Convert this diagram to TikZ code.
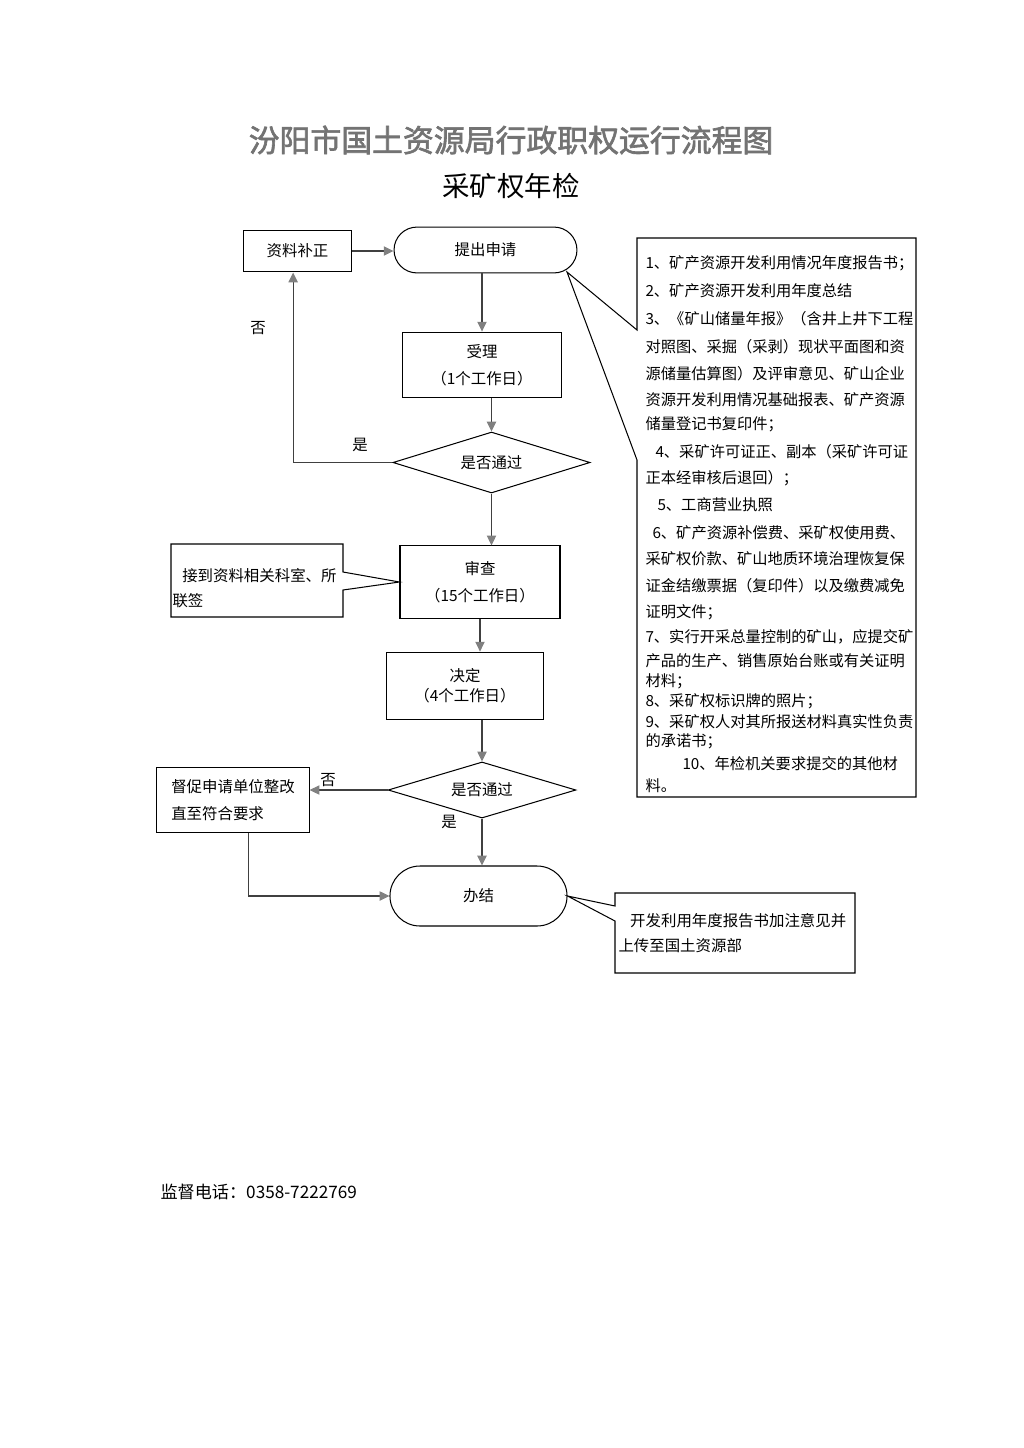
\documentclass[tikz,border=0pt]{standalone}
\usepackage{fontspec}
\setmainfont{Noto Sans CJK SC}
\newfontfamily\titlefont[FakeBold=2]{Noto Sans CJK SC}
\usetikzlibrary{arrows.meta,shapes.geometric,shapes.misc}

\tikzset{
  box/.style={draw, rectangle, inner sep=0pt, align=center, font=\fontsize{9}{15.7}\selectfont},
  term/.style={draw, rounded rectangle, inner sep=0pt, font=\fontsize{9}{11}\selectfont},
  pd/.style={draw, diamond, inner sep=0pt, shape aspect=3.2, font=\fontsize{9}{11}\selectfont},
  arr/.style={draw=black!75, -{Triangle[length=2mm,width=1.9mm,color=gray]}},
  lab/.style={inner sep=0pt, font=\fontsize{9}{15}\selectfont},
  note/.style={anchor=west, inner sep=0pt, font=\fontsize{8.9}{11}\selectfont},
}

\begin{document}
\begin{tikzpicture}[x=0.205mm, y=-0.205mm, line width=0.6pt]
\useasboundingbox (0,0) rectangle (1024,1448);

% title
\node[text=black!55, font=\titlefont\fontsize{18}{20}\selectfont] (title) at (511,140) {汾阳市国土资源局行政职权运行流程图};
\node[font=\fontsize{16}{18}\selectfont] (sub) at (511,186) {采矿权年检};

% flow
\node[box, minimum width=22.3mm, minimum height=8.6mm] (bz) at (297.5,251) {资料补正};
\node[term, minimum width=37.5mm, minimum height=9.4mm] (sq) at (485.5,250) {提出申请};
\node[box, minimum width=32.4mm, minimum height=13.5mm] (sl) at (482,365) {受理\\（1个工作日）};
\node[pd, minimum width=40.4mm, minimum height=12.5mm] (pd1) at (491.5,462.5) {是否通过};
\node[box, minimum width=32.8mm, minimum height=14.8mm] (sc) at (480,582) {审查\\（15个工作日）};
\node[box, minimum width=32mm, minimum height=13.9mm, font=\fontsize{9}{11.6}\selectfont] (jd) at (465,686) {决定\\（4个工作日）};
\node[pd, minimum width=38.5mm, minimum height=11.5mm, shape aspect=3.36] (pd2) at (482,790) {是否通过};
\node[box, align=left, minimum width=31.2mm, minimum height=13.5mm] (dc) at (233,800) {督促申请单位整改\\直至符合要求};
\node[term, minimum width=36.3mm, minimum height=12.3mm] (bj) at (478.5,896) {办结};

% yes / no
\node[lab] (y1) at (360,445) {是};
\node[lab] (n1) at (258,328) {否};
\node[lab] (n2) at (328,780) {否};
\node[lab] (y2) at (449,822) {是};

% connectors
\draw[arr] (bz.east) -- (bz.east -| sq.west);
\draw[arr] (sl.north |- sq.south) -- (sl.north);
\draw[arr] (pd1.north |- sl.south) -- (pd1.north);
\draw[arr] (pd1.west) -| ([xshift=-0.9mm]bz.south);
\draw[arr] (pd1.south) -- (pd1.south |- sc.north);
\draw[arr] (sc.south) -- (sc.south |- jd.north);
\draw[arr] (pd2.north |- jd.south) -- (pd2.north);
\draw[arr] (pd2.west) -- (pd2.west -| dc.east);
\draw[arr] (pd2.south) -- (pd2.south |- bj.north);
\draw[arr] ([xshift=3.1mm]dc.south) |- (bj.west);

% callouts
\node[lab, anchor=west, align=left] (lqt) at (172,588) {\hspace*{2mm}接到资料相关科室、所\\联签};
\draw (171,544) -- (343,544) -- (343,572) -- (sc.west) -- (343,590) -- (343,617) -- (171,617) -- cycle;

\coordinate (tipA) at (567,272);
\draw (637,238) -- (916,238) -- (916,797) -- (637,797) -- (637,460) -- (tipA) -- (637,330) -- cycle;
\foreach \y/\x/\t [count=\i] in {
  263/645/{1、矿产资源开发利用情况年度报告书；},
  291/645/{2、矿产资源开发利用年度总结},
  319/645/{3、《矿山储量年报》（含井上井下工程},
  347/645/{对照图、采掘（采剥）现状平面图和资},
  374/645/{源储量估算图）及评审意见、矿山企业},
  400/645/{资源开发利用情况基础报表、矿产资源},
  424/645/{储量登记书复印件；},
  452/655/{4、采矿许可证正、副本（采矿许可证},
  478/645/{正本经审核后退回）；},
  505/657/{5、工商营业执照},
  533/652/{6、矿产资源补偿费、采矿权使用费、},
  559/645/{采矿权价款、矿山地质环境治理恢复保},
  586/645/{证金结缴票据（复印件）以及缴费减免},
  612/645/{证明文件；},
  637/645/{7、实行开采总量控制的矿山，应提交矿},
  661/645/{产品的生产、销售原始台账或有关证明},
  681/645/{材料；},
  701/645/{8、采矿权标识牌的照片；},
  722/645/{9、采矿权人对其所报送材料真实性负责},
  741/645/{的承诺书；},
  764/682/{10、年检机关要求提交的其他材},
  786/645/{料。}}
  \node[note] (l\i) at (\x,\y) {\t};

\node[lab, anchor=west, align=left] (bqt) at (618,933) {\hspace*{2.4mm}开发利用年度报告书加注意见并\\上传至国土资源部};
\draw (615,893) -- (855,893) -- (855,973) -- (615,973) -- (615,921) -- (bj.east) -- (615,906) -- cycle;

% footer
\node[anchor=west, inner sep=0pt, font=\fontsize{10}{12}\selectfont] (tel) at (160,1192) {监督电话：0358-7222769};
\end{tikzpicture}
\end{document}
